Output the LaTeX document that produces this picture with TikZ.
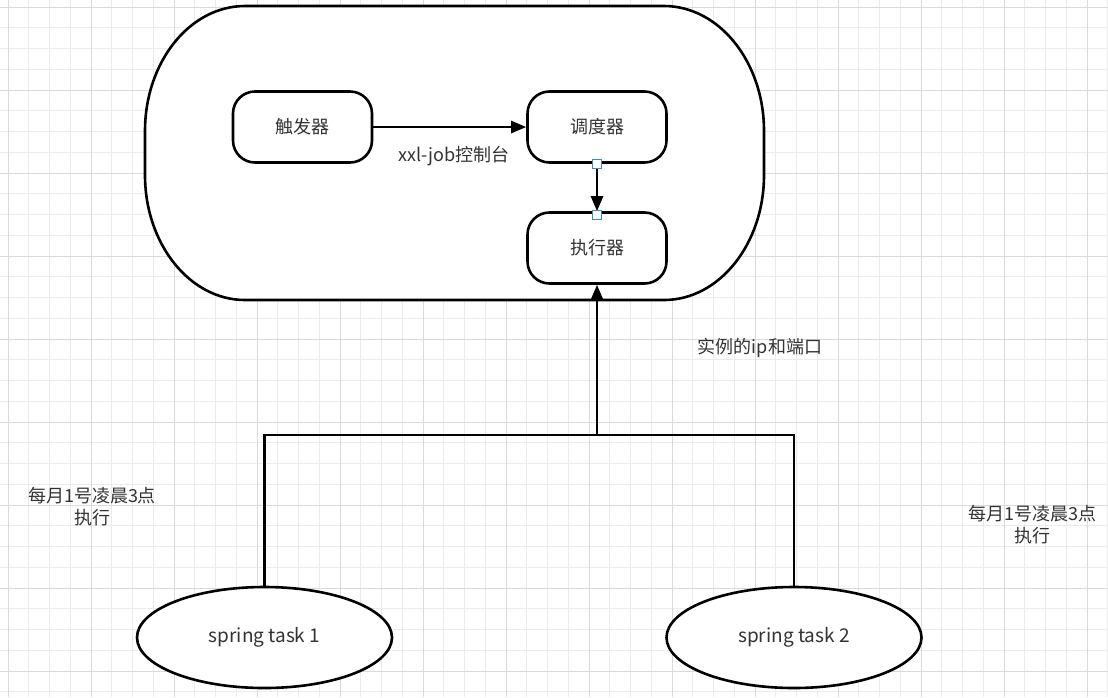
\documentclass[tikz,border=0pt]{standalone}
\usepackage{fontspec}
\setmainfont{Noto Sans CJK SC}
\usetikzlibrary{arrows.meta,shapes.geometric}
\definecolor{txt}{HTML}{333333}
\definecolor{gminor}{HTML}{EBEBEB}
\definecolor{gmajor}{HTML}{DADADA}
\definecolor{handle}{HTML}{3A8CD0}
\tikzset{
  lbl/.style={font=\fontsize{18}{22}\selectfont, text=txt, inner sep=0pt, align=center},
  stroke/.style={line width=2.6pt, draw=black},
  box/.style={stroke, fill=white, rounded corners=22pt, minimum width=139pt, minimum height=71pt, inner sep=0pt, font=\fontsize{18}{22}\selectfont, text=txt},
  task/.style={stroke, fill=white, ellipse, minimum width=255pt, minimum height=101pt, inner sep=0pt, font=\fontsize{19}{22}\selectfont, text=txt},
  conn/.style={line width=2.6pt, draw=black},
  arr/.style={conn, -{Triangle[length=15pt,width=12pt]}},
  hnd/.style={draw=handle, fill=white, line width=1.4pt, minimum size=9pt, inner sep=0pt},
}
\begin{document}
\begin{tikzpicture}[x=1pt,y=-1pt]
\useasboundingbox (0,0) rectangle (1108,697);
\fill[white] (0,0) rectangle (1108,697);
% grid
\foreach \i in {0,...,53} {
  \draw[gminor, line width=1pt] ({8+20.75*\i},0) -- ({8+20.75*\i},697);
}
\foreach \i in {0,...,33} {
  \draw[gminor, line width=1pt] (0,{7+20.75*\i}) -- (1108,{7+20.75*\i});
}
\foreach \i in {0,...,13} {
  \draw[gmajor, line width=1pt] ({8+83*\i},0) -- ({8+83*\i},697);
}
\foreach \i in {0,...,8} {
  \draw[gmajor, line width=1pt] (0,{7+83*\i}) -- (1108,{7+83*\i});
}
% container
\draw[stroke, fill=white] (245,6) -- (664,6) .. controls (719.2,6) and (764,62) .. (764,131)
  -- (764,175) .. controls (764,244) and (719.2,300) .. (664,300)
  -- (245,300) .. controls (189.8,300) and (145,244) .. (145,175)
  -- (145,131) .. controls (145,62) and (189.8,6) .. (245,6) -- cycle;
% nodes
\node[box] (trig) at (302.5,127) {触发器};
\node[box] (sched) at (597,127) {调度器};
\node[box] (exec) at (597,248) {执行器};
\node[task] (t1) at (264.5,637.5) {spring task 1};
\node[task] (t2) at (794,637.5) {spring task 2};
\coordinate (bus) at (597,435);
% connectors
\draw[arr] (trig.east) -- (sched.west);
\draw[arr] (sched.south) -- (exec.north);
\draw[conn] (t1.north) |- (bus);
\draw[conn] (t2.north) |- (bus);
\draw[arr] (bus) -- (exec.south);
\node[hnd] (h1) at (sched.south) {};
\node[hnd] (h2) at ([yshift=-4pt]exec.north) {};
% labels
\node[lbl] (l1) at (454,156) {xxl-job控制台};
\node[lbl] (l2) at (760,348) {实例的ip和端口};
\node[lbl] (l3) at (92,507) {每月1号凌晨3点\\执行};
\node[lbl] (l4) at (1032,525) {每月1号凌晨3点\\执行};
\end{tikzpicture}
\end{document}
